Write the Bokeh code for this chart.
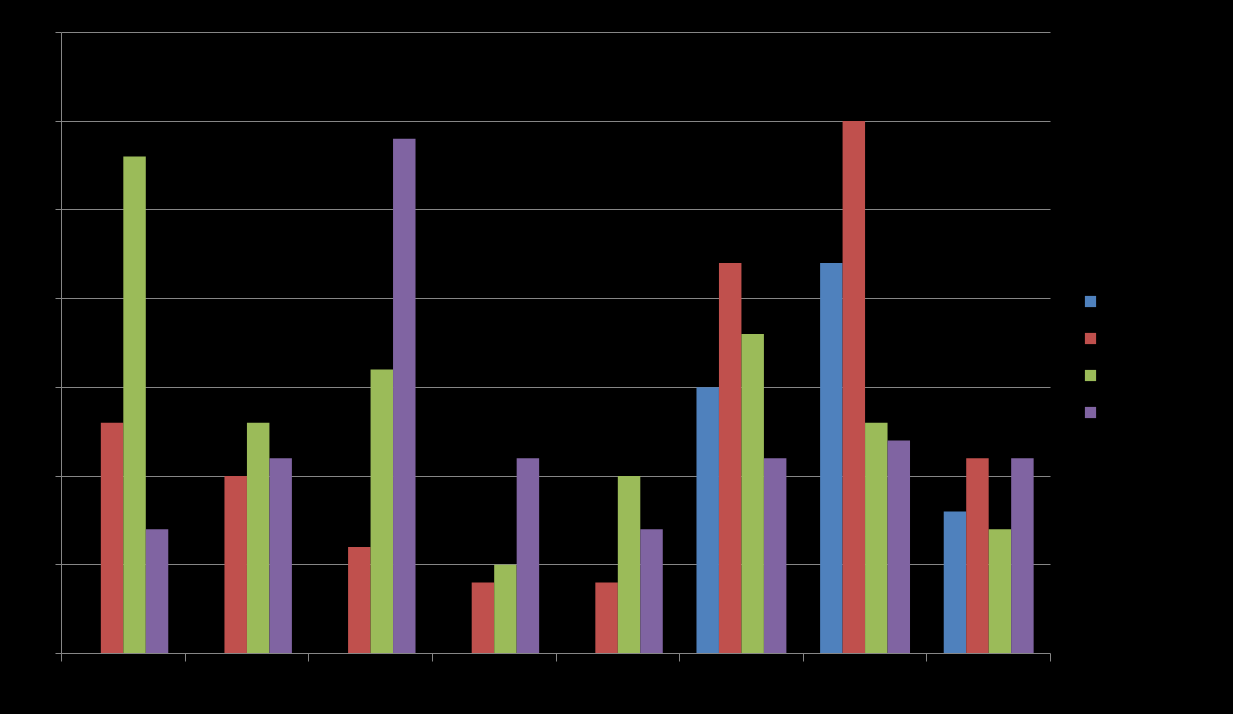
from bokeh.plotting import figure
from bokeh.models import Range1d, FixedTicker, Legend, LegendItem, ColumnDataSource, Grid
from bokeh.embed import file_html
from bokeh.resources import INLINE

categories = ["1", "2", "3", "4", "5", "6", "7", "8"]
series_names = ["Series 1", "Series 2", "Series 3", "Series 4"]
series1 = [0, 0, 0, 0, 0, 3.0, 4.4, 1.6]
series2 = [2.6, 2.0, 1.2, 0.8, 0.8, 4.4, 6.0, 2.2]
series3 = [5.6, 2.6, 3.2, 1.0, 2.0, 3.6, 2.6, 1.4]
series4 = [1.4, 2.2, 5.8, 2.2, 1.4, 2.2, 2.4, 2.2]
y_ticks = [0, 1, 2, 3, 4, 5, 6, 7]
colors = ["#4F81BD", "#C0504D", "#9BBB59", "#8064A2"]

n = len(categories)
W, H = 1233, 714
LEFT, TOP, BOTTOM = 61, 31, 61
plot_w = 989.0                      # pixel width of the category area
frame_w = W - LEFT                  # frame extends to the right edge (legend lives there)
x_end = n * frame_w / plot_w

p = figure(width=W, height=H, output_backend="svg", toolbar_location=None,
           x_range=Range1d(0, x_end), y_range=Range1d(0, 7.01),
           min_border_left=LEFT, min_border_right=0, min_border_top=TOP, min_border_bottom=BOTTOM)
p.background_fill_color = "black"
p.border_fill_color = "black"
p.outline_line_color = None

bw = 1.0 / 5.5
centers = [i + 0.5 for i in range(n)]
renderers = []
for k, (vals, c) in enumerate(zip([series1, series2, series3, series4], colors)):
    xs = [cx + (k - 1.5) * bw for cx in centers]
    src = ColumnDataSource(dict(x=xs, top=vals))
    renderers.append(p.vbar(x="x", top="top", bottom=0, width=bw, source=src,
                            fill_color=c, line_color=None))

grid_color = "#868686"
p.xgrid.grid_line_color = None
p.ygrid.grid_line_color = grid_color
p.ygrid.ticker = FixedTicker(ticks=y_ticks)
if "cross_bounds" in Grid.properties():
    p.ygrid.cross_bounds = (0, n)

p.yaxis.ticker = FixedTicker(ticks=y_ticks)
p.yaxis.axis_line_color = grid_color
p.yaxis.major_tick_line_color = grid_color
p.yaxis.major_tick_out = 6
p.yaxis.major_tick_in = 0
p.yaxis.minor_tick_line_color = None
p.yaxis.major_label_overrides = {t: "" for t in y_ticks}
p.yaxis.bounds = (0, 7)

xt = list(range(n + 1))
p.xaxis.ticker = FixedTicker(ticks=xt)
p.xaxis.axis_line_color = grid_color
p.xaxis.major_tick_line_color = grid_color
p.xaxis.major_tick_out = 8
p.xaxis.major_tick_in = 0
p.xaxis.minor_tick_line_color = None
p.xaxis.major_label_overrides = {t: "" for t in xt}
p.xaxis.bounds = (0, n)

legend = Legend(items=[LegendItem(label=s, renderers=[r]) for s, r in zip(series_names, renderers)],
                location=(1022, 234))
legend.glyph_width = 14
legend.glyph_height = 14
legend.label_height = 11
legend.label_text_font_size = "10px"
legend.label_text_color = "black"
legend.spacing = 23
legend.padding = 0
legend.margin = 0
legend.border_line_alpha = 0
legend.background_fill_alpha = 0
p.add_layout(legend, "center")

html = file_html(p, INLINE)
html = html.replace("</head>", "<style>html, body { background-color: #000000; }</style></head>", 1)
open("out.html", "w").write(html)
